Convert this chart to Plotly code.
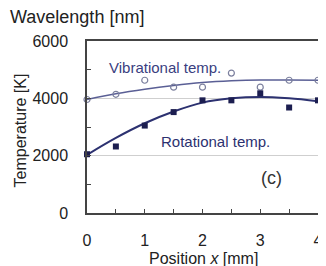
import plotly.graph_objects as go

# Data
positions = [0, 0.5, 1, 1.5, 2, 2.5, 3, 3.5, 4]
vib_temp = [3960, 4140, 4630, 4390, 4390, 4880, 4390, 4630, 4630]
rot_temp = [2050, 2320, 3050, 3520, 3930, 3930, 4175, 3680, 3930]
vib_fit = [3960, 4160, 4320, 4450, 4550, 4610, 4640, 4640, 4630]
rot_fit = [2030, 2620, 3130, 3540, 3850, 4000, 4050, 4000, 3900]

x_ticks = [0, 1, 2, 3, 4]
y_ticks = [0, 2000, 4000, 6000]

line_col = "#2c3170"
font_fam = "Liberation Sans, Arial, sans-serif"
txt = "#222"

fig = go.Figure()
fig.add_trace(go.Scatter(x=positions, y=vib_fit, mode="lines",
                         line=dict(color="#5a5f95", width=1.5, shape="spline"),
                         cliponaxis=False, showlegend=False, hoverinfo="skip"))
fig.add_trace(go.Scatter(x=positions, y=rot_fit, mode="lines",
                         line=dict(color=line_col, width=2, shape="spline"),
                         cliponaxis=False, showlegend=False, hoverinfo="skip"))
fig.add_trace(go.Scatter(x=positions, y=vib_temp, mode="markers",
                         marker=dict(symbol="circle-open", size=6, color="#7c809e",
                                     line=dict(width=1.2, color="#7c809e")),
                         cliponaxis=False, showlegend=False))
fig.add_trace(go.Scatter(x=positions, y=rot_temp, mode="markers",
                         marker=dict(symbol="square", size=6, color="#1c1e50"),
                         cliponaxis=False, showlegend=False))

# page body has an 8px margin; figure is sized/offset to compensate
W, H = 318, 258
L, R, T, B = 79, 3, 33, 53
pw, ph = W - L - R, H - T - B

def px(xf):
    return (xf - 8 - L) / pw

def py(yf):
    return (T + ph - (yf - 8)) / ph

fig.update_layout(
    width=W, height=H,
    margin=dict(l=L, r=R, t=T, b=B),
    paper_bgcolor="white", plot_bgcolor="white",
    font=dict(family=font_fam, size=16, color=txt),
    xaxis=dict(range=[0, 4], tickvals=x_ticks, showgrid=False, zeroline=False,
               showline=True, linecolor="#444", linewidth=1.5, mirror=True,
               ticks="inside", ticklen=4, tickcolor="#444", tickwidth=1,
               minor=dict(dtick=0.5, tick0=0, ticks="inside", ticklen=4, tickcolor="#444"),
               ticklabelstandoff=12,
               tickfont=dict(size=16, color=txt)),
    yaxis=dict(range=[0, 6000], tickvals=y_ticks, showgrid=True,
               gridcolor="#cfcfcf", gridwidth=1, zeroline=False,
               showline=True, linecolor="#444", linewidth=1.5, mirror=True,
               ticks="inside", ticklen=4, tickcolor="#444", tickwidth=1,
               minor=dict(dtick=1000, tick0=0, ticks="inside", ticklen=4, tickcolor="#444"),
               ticklabelstandoff=14,
               tickfont=dict(size=16, color=txt)),
    annotations=[
        dict(text="Wavelength [nm]", x=px(77), y=py(17), xref="paper", yref="paper",
             xanchor="center", yanchor="middle", showarrow=False,
             font=dict(size=18, color=txt)),
        dict(text="Temperature [K]", x=px(19), y=py(130), xref="paper", yref="paper",
             xanchor="center", yanchor="middle", textangle=-90, showarrow=False,
             font=dict(size=16, color=txt)),
        dict(text="Position <i>x</i> [mm]", x=px(206), y=py(258), xref="paper", yref="paper",
             xanchor="center", yanchor="middle", showarrow=False,
             font=dict(size=16, color=txt)),
        dict(text="Vibrational temp.", x=0.34, y=5060, xref="x", yref="y",
             xanchor="left", showarrow=False, font=dict(size=15, color="#3a4080")),
        dict(text="Rotational temp.", x=1.24, y=2510, xref="x", yref="y",
             xanchor="left", showarrow=False, font=dict(size=15, color="#2c3170")),
        dict(text="(c)", x=3.2, y=1220, xref="x", yref="y",
             showarrow=False, font=dict(size=18, color="#333")),
    ],
)

fig.write_html("out.html")
